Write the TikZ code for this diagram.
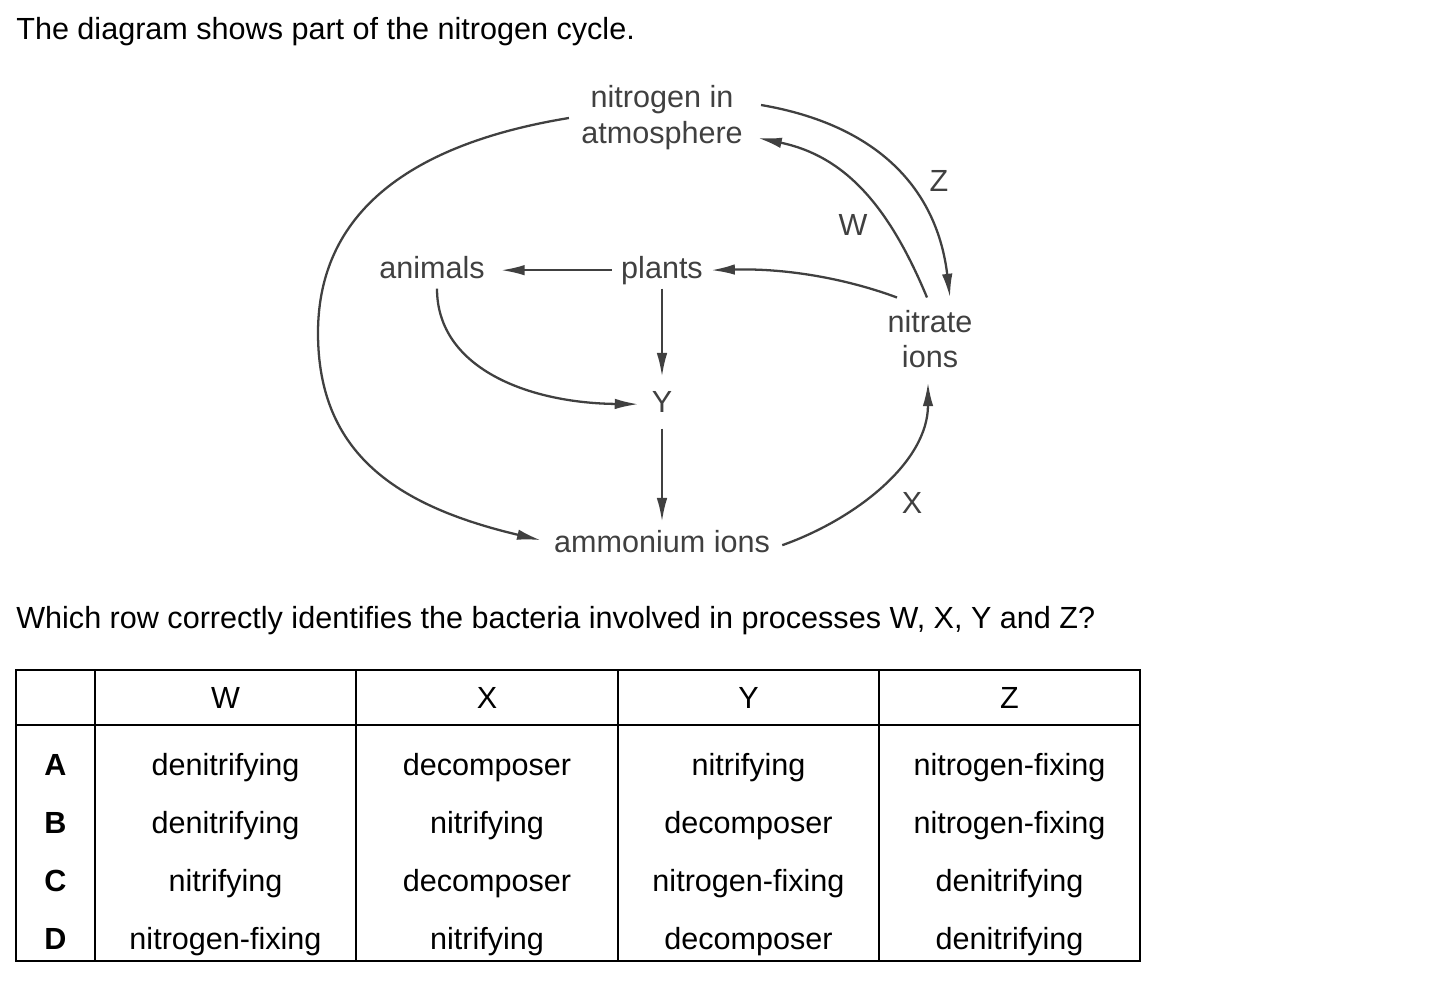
\documentclass[tikz,border=0pt]{standalone}
\usepackage{fontspec}
\setmainfont{Liberation Sans}
\usetikzlibrary{arrows.meta,calc}
\definecolor{diagink}{gray}{0.25}
\newcommand{\qfont}{\fontsize{17.4pt}{20.4pt}\selectfont}

\begin{document}
\begin{tikzpicture}[
    x=0.02cm, y=-0.02cm,
    txt/.style={
        anchor=base west,
        font=\qfont,
        inner sep=0pt
    },
    lbl/.style={
        anchor=base,
        font=\qfont,
        text=diagink,
        inner sep=0pt,
        text height=12.5pt,
        text depth=3.6pt
    },
    twoline/.style={
        font=\qfont,
        text=diagink,
        inner sep=0pt,
        align=center
    },
    arr/.style={
        -{Latex[length=13.5pt,width=6pt]},
        line width=1.3pt,
        diagink
    },
    cell/.style={
        anchor=base,
        font=\qfont,
        inner sep=0pt
    },
    rule/.style={
        line width=1.1pt
    }
]
\useasboundingbox (0,0) rectangle (1439,987);

% Question stem
\node[txt] (title) at (16,39) {The diagram shows part of the nitrogen cycle.};

% Cycle stages
\node[twoline] (atm) at (662,118) {nitrogen in\\atmosphere};
\node[lbl] (animals) at (432,278) {animals};
\node[lbl] (plants) at (662,278) {plants};
\node[twoline] (nit) at (930,339) {nitrate\\ions};
\node[lbl] (y) at (662,412) {Y};
\node[lbl] (amm) at (662,552) {ammonium ions};

% Process letters
\node[lbl] (labw) at (853,235) {W};
\node[lbl] (labz) at (939,191) {Z};
\node[lbl] (labx) at (912,513) {X};

% Straight arrows
\draw[arr] ($(plants.west)+(-9,0)$) -- ($(animals.east)+(16,0)$);
\draw[arr] ($(plants.south)+(0,4)$) -- ($(y.north)+(0,-13)$);
\draw[arr] ($(y.south)+(0,10)$) -- ($(amm.north)+(0,-8)$);

% Curved arrows
\draw[arr] ($(animals.south)+(5,4)$) .. controls (437,368) and (528,403) .. ($(y.west)+(-13,0)$);
\draw[arr] ($(nit.north)+(-33,-12)$) .. controls (850,280) and (790,268) .. ($(plants.east)+(8,0)$);
\draw[arr] ($(atm.east)+(18,-13)$) .. controls (878,125) and (937,189) .. ($(nit.north)+(20,-12)$);
\draw[arr] ($(nit.north)+(-3,-12)$) .. controls (889,206) and (845,156) .. ($(atm.east)+(15,20)$);
\draw[arr] ($(amm.east)+(12,1)$) .. controls (856,519) and (928,462) .. ($(nit.south)+(-2,14)$);
\draw[arr] ($(atm.west)+(-12,0)$) .. controls (422,142) and (318,205) .. (318,333)
    .. controls (318,453) and (396,506) .. ($(amm.west)+(-13,-4)$);

% Question
\node[txt] (question) at (16,628) {Which row correctly identifies the bacteria involved in processes W, X, Y and Z?};

% Answer table
\draw[rule] (16,670) rectangle (1140,961);
\draw[rule] (16,725) -- (1140,725);
\draw[rule] (95,670) -- (95,961);
\draw[rule] (356,670) -- (356,961);
\draw[rule] (618,670) -- (618,961);
\draw[rule] (879,670) -- (879,961);

% Header
\node[cell] (hw) at (225.5,708) {W};
\node[cell] (hx) at (487,708) {X};
\node[cell] (hy) at (748.5,708) {Y};
\node[cell] (hz) at (1009.5,708) {Z};

% Row A
\node[cell, font=\qfont\bfseries] (ra) at (55.5,775) {A};
\node[cell] (aw) at (225.5,775) {denitrifying};
\node[cell] (ax) at (487,775) {decomposer};
\node[cell] (ay) at (748.5,775) {nitrifying};
\node[cell] (az) at (1009.5,775) {nitrogen-fixing};

% Row B
\node[cell, font=\qfont\bfseries] (rb) at (55.5,833) {B};
\node[cell] (bw) at (225.5,833) {denitrifying};
\node[cell] (bx) at (487,833) {nitrifying};
\node[cell] (by) at (748.5,833) {decomposer};
\node[cell] (bz) at (1009.5,833) {nitrogen-fixing};

% Row C
\node[cell, font=\qfont\bfseries] (rc) at (55.5,891) {C};
\node[cell] (cw) at (225.5,891) {nitrifying};
\node[cell] (cx) at (487,891) {decomposer};
\node[cell] (cy) at (748.5,891) {nitrogen-fixing};
\node[cell] (cz) at (1009.5,891) {denitrifying};

% Row D
\node[cell, font=\qfont\bfseries] (rd) at (55.5,949) {D};
\node[cell] (dw) at (225.5,949) {nitrogen-fixing};
\node[cell] (dx) at (487,949) {nitrifying};
\node[cell] (dy) at (748.5,949) {decomposer};
\node[cell] (dz) at (1009.5,949) {denitrifying};

\end{tikzpicture}
\end{document}
